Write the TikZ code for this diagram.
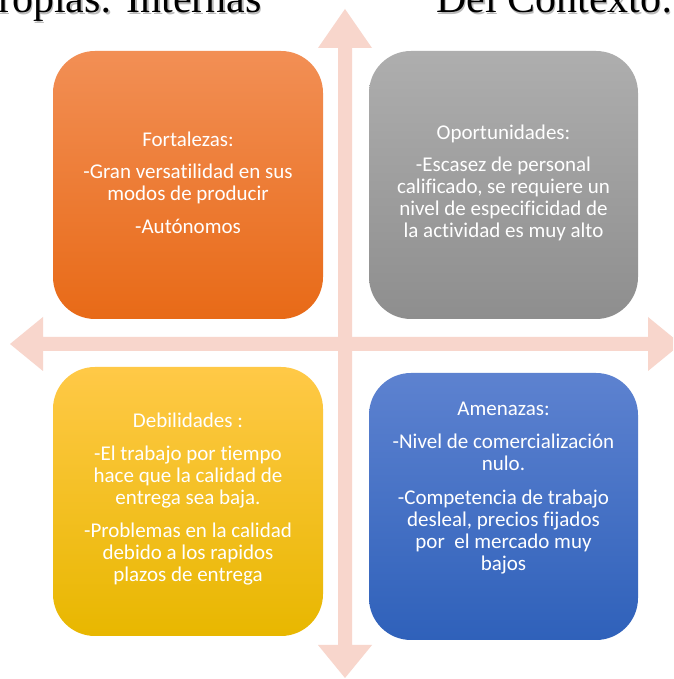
\documentclass[tikz,border=0pt]{standalone}
\usepackage{fontspec}
\setmainfont{Carlito}[Ligatures=NoCommon]
\newfontfamily\titlefont{Liberation Serif}
\definecolor{arrowpink}{HTML}{F8D6CC}
\definecolor{orTop}{HTML}{F28F55}
\definecolor{orBot}{HTML}{E86A17}
\definecolor{grTop}{HTML}{AEAEAE}
\definecolor{grBot}{HTML}{8E8E8E}
\definecolor{yeTop}{HTML}{FFC947}
\definecolor{yeBot}{HTML}{E8B700}
\definecolor{blTop}{HTML}{5D82D0}
\definecolor{blBot}{HTML}{2F61BA}
\tikzset{
  quadbox/.style={rounded corners=42pt},
  quadtext/.style={text=white, align=center, inner sep=0pt, anchor=north,
    font=\fontsize{21}{22}\selectfont},
  titletext/.style={inner sep=0pt, font=\titlefont\fontsize{42}{46}\selectfont},
  crossarrow/.style={fill=arrowpink, draw=none}
}
\begin{document}
\begin{tikzpicture}[x=1pt,y=1pt]
\useasboundingbox (0,0) rectangle (673,679);
\clip (0,0) rectangle (673,679);
\fill[white] (0,0) rectangle (673,679);
% cross arrows
\fill[crossarrow] (338,34) -- (318,34) -- (345,1) -- (372,34) -- (352,34)
  -- (352,631) -- (372,631) -- (345,670) -- (318,631) -- (338,631) -- cycle;
\fill[crossarrow] (43,328) -- (43,308) -- (10,335) -- (43,362) -- (43,342)
  -- (648,342) -- (648,362) -- (681,335) -- (648,308) -- (648,328) -- cycle;
% boxes
\shade[quadbox, top color=orTop, bottom color=orBot] (53,360) rectangle (323,628);
\shade[quadbox, top color=grTop, bottom color=grBot] (369,360) rectangle (638,628);
\shade[quadbox, top color=yeTop, bottom color=yeBot] (53,43) rectangle (323,312);
\shade[quadbox, top color=blTop, bottom color=blBot] (369,39) rectangle (638,306);
% box texts
\node[quadtext] (fort) at (188,547) {Fortalezas:\\[10pt]
  -Gran versatilidad en sus\\ modos de producir\\[11pt] -Autónomos};
\node[quadtext] (opor) at (503.5,554) {Oportunidades:\\[10pt]
  -Escasez de personal\\ calificado, se requiere un\\ nivel de especificidad de\\ la actividad es muy alto};
\node[quadtext] (debi) at (188,266) {Debilidades :\\[11pt]
  -El trabajo por tiempo\\ hace que la calidad de\\ entrega sea baja.\\[11pt]
  -Problemas en la calidad\\ debido a los rapidos\\ plazos de entrega};
\node[quadtext] (amen) at (503.5,277) {Amenazas:\\[11pt]
  -Nivel de comercialización\\ nulo.\\[12pt]
  -Competencia de trabajo\\ desleal, precios fijados\\ por\ \ el mercado muy\\ bajos};
% titles with shadow
\node[titletext, text=black!45, opacity=0.6, anchor=base east] at (263.5,664.5) {Propias: Internas};
\node[titletext, anchor=base east] (tleft) at (262,666) {Propias: Internas};
\node[titletext, text=black!45, opacity=0.6, anchor=base west] at (437.5,664.5) {Del Contexto:};
\node[titletext, anchor=base west] (tright) at (436,666) {Del Contexto:};
\end{tikzpicture}
\end{document}
